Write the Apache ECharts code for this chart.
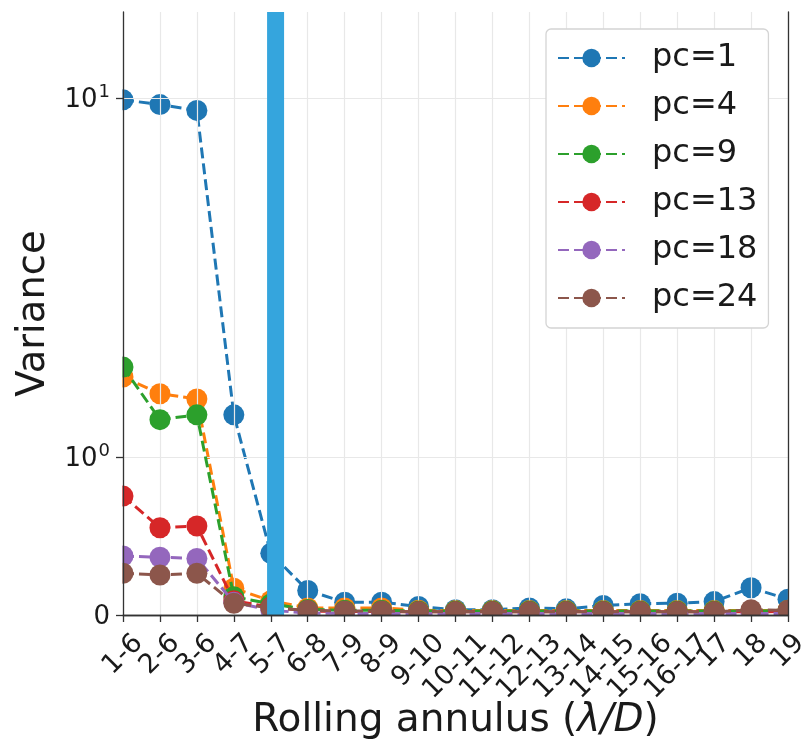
<!DOCTYPE html>
<html>
<head>
<meta charset="utf-8">
<script src="https://cdn.jsdelivr.net/npm/echarts@6/dist/echarts.min.js"></script>
<style>
html,body{margin:0;padding:0;background:#fff;}
#c{width:804px;height:750px;}
</style>
</head>
<body>
<div id="c"></div>
<script>
// ---- data ----
const categories = ['1-6','2-6','3-6','4-7','5-7','6-8','7-9','8-9','9-10','10-11','11-12','12-13','13-14','14-15','15-16','16-17','17','18','19'];
const pc1  = [9.9, 9.6, 9.25, 1.31, 0.39, 0.155, 0.081, 0.081, 0.054, 0.033, 0.033, 0.045, 0.039, 0.06, 0.071, 0.075, 0.085, 0.172, 0.1];
const pc4  = [1.67, 1.50, 1.45, 0.169, 0.09, 0.045, 0.045, 0.045, 0.03, 0.028, 0.028, 0.028, 0.028, 0.028, 0.028, 0.028, 0.028, 0.028, 0.03];
const pc9  = [1.78, 1.27, 1.31, 0.116, 0.07, 0.035, 0.03, 0.03, 0.025, 0.025, 0.025, 0.025, 0.025, 0.025, 0.025, 0.025, 0.025, 0.025, 0.028];
const pc13 = [0.752, 0.552, 0.563, 0.09, 0.05, 0.025, 0.022, 0.022, 0.02, 0.02, 0.02, 0.02, 0.02, 0.02, 0.02, 0.02, 0.02, 0.02, 0.022];
const pc18 = [0.373, 0.365, 0.358, 0.08, 0.03, 0.012, 0.01, 0.01, 0.009, 0.009, 0.009, 0.009, 0.009, 0.009, 0.009, 0.009, 0.009, 0.009, 0.01];
const pc24 = [0.264, 0.253, 0.264, 0.074, 0.045, 0.03, 0.025, 0.025, 0.02, 0.02, 0.02, 0.02, 0.02, 0.02, 0.02, 0.02, 0.02, 0.033, 0.03];
const seriesNames = ['pc=1','pc=4','pc=9','pc=13','pc=18','pc=24'];
const seriesValues = [pc1, pc4, pc9, pc13, pc18, pc24];
const yTickValues = [0, 1, 10];
const yTopValue = 17.4;          // value at top of plot
const bandPosition = 4.13;       // vertical band, in category-index units

// ---- styles ----
const colors = ['#1f77b4','#ff7f0e','#2ca02c','#d62728','#9467bd','#8c564b'];
const LIN = 0.441; // symlog linear-region scale (linthresh = 1)
function tf(v){ return v <= 1 ? v * LIN : LIN + Math.log10(v); }
const yMaxT = tf(yTopValue);
const tickT = yTickValues.map(tf);
const FONT = 'DejaVu Sans';
const TXT = '#1a1a1a';
const GRIDC = '#e8e8e8';
const GRID = { left: 123, right: 16, top: 12, bottom: 135 };
const W = 804, H = 750;
const XFS = 27; // x tick label font size

const series = seriesNames.map((name, i) => ({
  name: name,
  type: 'line',
  data: seriesValues[i].map(tf),
  symbol: 'circle',
  symbolSize: 21,
  lineStyle: { color: colors[i], width: 3, type: [11, 5] },
  itemStyle: { color: colors[i] },
  z: 3 + i
}));

// grid lines (drawn under the data)
series.unshift({
  name: '_grid', type: 'line', data: [], silent: true, z: 1,
  markLine: {
    silent: true, symbol: 'none', label: { show: false },
    lineStyle: { color: GRIDC, width: 1.2, type: 'solid' },
    data: tickT.slice(1).map(v => ({ yAxis: v })).concat(categories.map(c => ({ xAxis: c })))
  }
});

// vertical band
series.push({
  name: '_band', type: 'line', xAxisIndex: 1, silent: true, z: 20,
  data: [[bandPosition, 0], [bandPosition, yMaxT]],
  symbol: 'none',
  lineStyle: { color: '#35a5dd', width: 17, cap: 'butt' }
});

const spine = { show: true, lineStyle: { color: '#333', width: 1.3 } };

// white masks outside the plot area (emulate clipping of markers)
const masks = [
  { type: 'rect', z: 50, silent: true, shape: { x: GRID.left - 30, y: 0, width: 29.4, height: H - GRID.bottom + 20 }, style: { fill: '#fff' } },
  { type: 'rect', z: 50, silent: true, shape: { x: W - GRID.right + 0.8, y: 0, width: 30, height: H - GRID.bottom + 20 }, style: { fill: '#fff' } },
  { type: 'rect', z: 50, silent: true, shape: { x: GRID.left - 30, y: H - GRID.bottom + 0.7, width: W, height: 20 }, style: { fill: '#fff' } }
];

const chart = echarts.init(document.getElementById('c'), null, { renderer: 'canvas' });
chart.setOption({
  animation: false,
  backgroundColor: '#ffffff',
  textStyle: { fontFamily: FONT },
  grid: { left: GRID.left, right: GRID.right, top: GRID.top, bottom: GRID.bottom, show: false },
  legend: {
    data: seriesNames,
    orient: 'vertical',
    left: 546, top: 29,
    padding: [13, 11, 14, 11],
    itemWidth: 67, itemHeight: 23, itemGap: 16,
    backgroundColor: '#fff',
    borderColor: '#d4d4d4', borderWidth: 1.3, borderRadius: 5,
    z: 60,
    textStyle: { fontFamily: FONT, fontSize: 32, color: TXT, lineHeight: 28, padding: [0, 0, 0, 22] }
  },
  xAxis: [{
    type: 'category',
    data: categories,
    boundaryGap: false,
    z: 60,
    axisLine: spine,
    axisTick: { show: true, alignWithLabel: true, length: 7, lineStyle: { color: '#333', width: 1.3 } },
    axisLabel: { show: false, interval: 0 },
    splitLine: { show: false },
    name: 'Rolling annulus ({i|λ/D})',
    nameLocation: 'middle',
    nameGap: 86,
    nameTextStyle: { fontSize: 39, color: TXT, fontFamily: FONT, rich: { i: { fontSize: 39, fontStyle: 'italic', color: TXT, fontFamily: FONT } } }
  }, {
    type: 'value', min: 0, max: categories.length - 1, position: 'top', z: 60,
    axisLine: spine, axisTick: { show: false }, axisLabel: { show: false }, splitLine: { show: false }
  }],
  yAxis: [{
    type: 'value',
    min: 0, max: yMaxT,
    z: 60,
    axisLine: spine,
    axisTick: { show: true, length: 7, customValues: tickT, lineStyle: { color: '#333', width: 1.3 } },
    axisLabel: {
      customValues: tickT,
      margin: 13,
      formatter: function (v) {
        if (Math.abs(v) < 1e-6) return '{b|0}';
        const k = Math.round(v - LIN);
        return '{b|10}{s|' + k + '}';
      },
      rich: {
        b: { fontSize: 26, color: TXT, fontFamily: FONT, lineHeight: 30, verticalAlign: 'bottom' },
        s: { fontSize: 18, color: TXT, fontFamily: FONT, lineHeight: 30, verticalAlign: 'top', padding: [0, 0, 0, 1] }
      }
    },
    splitLine: { show: false },
    name: 'Variance',
    nameLocation: 'middle',
    nameGap: 68,
    nameTextStyle: { fontSize: 38.5, color: TXT, fontFamily: FONT }
  }, {
    type: 'value', min: 0, max: yMaxT, position: 'right', z: 60,
    axisLine: spine, axisTick: { show: false }, axisLabel: { show: false }, splitLine: { show: false }
  }],
  graphic: { elements: masks },
  series: series
});

// x tick labels: rotated 45°, bounding box centred on the tick (matplotlib style)
const ctx = document.createElement('canvas').getContext('2d');
ctx.font = XFS + 'px "' + FONT + '"';
const axisY = chart.convertToPixel({ yAxisIndex: 0 }, 0);
const labelEls = categories.map((c) => {
  const px = chart.convertToPixel({ xAxisIndex: 0 }, c);
  const w = ctx.measureText(c).width;
  const hb = 1.17 * XFS;
  return {
    type: 'text', z: 70, silent: true,
    x: px, y: axisY + 13 + 0.3536 * (w + hb),
    rotation: Math.PI / 4,
    style: { text: c, fontSize: XFS, fontFamily: FONT, fill: TXT, align: 'center', verticalAlign: 'middle' }
  };
});
chart.setOption({ graphic: { elements: masks.concat(labelEls) } });
</script>
</body>
</html>
